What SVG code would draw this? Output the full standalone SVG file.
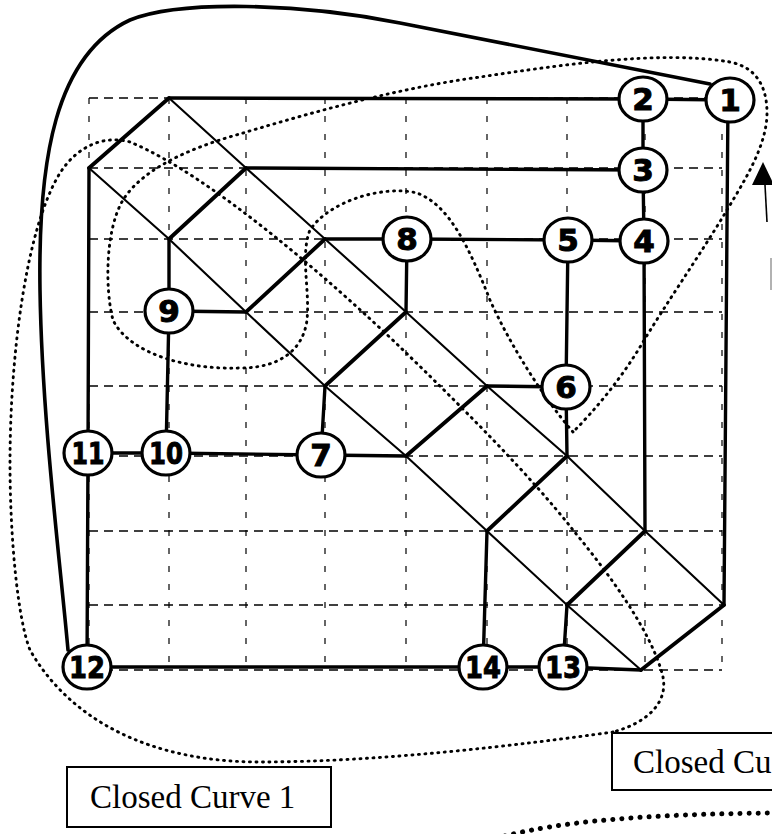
<svg xmlns="http://www.w3.org/2000/svg" width="772" height="834" viewBox="0 0 772 834">
  <style>
    .grid-h { stroke: #000; stroke-width: 1.3; stroke-dasharray: 9 6; fill: none; }
    .grid-v { stroke: #000; stroke-width: 1.2; stroke-dasharray: 6 12; fill: none; }
    .curve { fill: none; stroke: #000; stroke-width: 2.9; stroke-dasharray: 1 5.5; stroke-linecap: round; }
    .curve-big { fill: none; stroke: #000; stroke-width: 5; stroke-dasharray: 0.1 9; stroke-linecap: round; }
    .edge { fill: none; stroke: #000; stroke-width: 3.4; stroke-linecap: round; stroke-linejoin: round; }
    .diag { fill: none; stroke: #000; stroke-width: 2.1; stroke-linecap: round; }
    .rung { fill: none; stroke: #000; stroke-width: 3.8; stroke-linecap: round; }
    .outer { fill: none; stroke: #000; stroke-width: 3.6; stroke-linecap: round; stroke-linejoin: round; }
    .node ellipse { fill: #fff; stroke: #000; stroke-width: 3.2; }
    .node text { font-family: "DejaVu Sans", "Liberation Sans", sans-serif; font-weight: bold; font-size: 31px; text-anchor: middle; fill: #000; stroke: #000; stroke-width: 1; }
    .box rect { fill: #fff; stroke: #000; stroke-width: 2; }
    .box text { font-family: "Liberation Serif", "Times New Roman", serif; font-size: 33px; fill: #000; }
  </style>

  <!-- dashed reference grid, 8 x 8 cells -->
  <g id="grid">
    <path class="grid-h" d="M89,98H722 M89,168H722 M89,239H722 M89,312H722 M89,386H722 M89,456H722 M89,531H722 M89,605H722 M89,670H722"/>
    <path class="grid-v" d="M89,98V670 M169,98V670 M246,98V670 M325,98V670 M406,98V670 M487,98V670 M567,98V670 M645,98V670 M722,98V670"/>
  </g>

  <!-- dotted closed curves -->
  <g id="curves">
    <path id="closed-curve-1" class="curve" d="M613,732 C520,745 380,762 260,762 C150,762 70,720 30,650 C18,620 10,540 10,463 C10,360 25,230 60,173 C78,145 105,135 130,142 C210,175 330,280 400,347 C460,405 530,475 573,530 C610,575 650,630 662,673 C670,700 650,722 613,732 Z"/>
    <path id="closed-curve-2" class="curve" d="M573,432 C545,400 510,345 490,300 C470,250 450,205 417,193 C385,185 330,200 310,230 C300,255 310,290 307,320 C303,350 280,368 240,368 C190,370 130,355 113,320 C105,290 105,230 123,200 C145,165 200,145 243,133 C320,110 400,88 480,77 C560,65 660,50 730,62 C755,67 767,85 767,113 C767,145 745,180 727,210 C700,255 665,305 640,347 C620,380 595,410 573,432 Z"/>
    <path id="closed-curve-3" class="curve-big" d="M505,836 C560,822 640,814 776,813"/>
  </g>

  <!-- connectors -->
  <g id="connectors">
    <!-- outer solid curve from 12 round to 1 -->
    <path class="outer" d="M68,650 C60,560 42,420 40,290 C38,160 55,55 130,20 C180,0 300,3 400,23 L710,84"/>

    <!-- diagonal band -->
    <path class="diag" d="M169,98 L246,168 L325,239 L406,312 L487,386 L567,456 L645,531 L724,605"/>
    <path class="diag" d="M89,168 L169,239 L246,312 L325,386 L406,456 L487,531 L567,605 L641,670"/>
    <path class="rung" d="M89,168 L169,98 M169,239 L246,168 M246,312 L325,239 M325,386 L406,312 M406,456 L487,386 M487,531 L567,456 M567,605 L645,531 M641,670 L724,605"/>

    <!-- edges between nodes and band corners -->
    <path class="edge" d="M169,98 L643,99 L730,100"/>
    <path class="edge" d="M643,99 L643,170 L644,241"/>
    <path class="edge" d="M246,168 L643,170"/>
    <path class="edge" d="M325,239 L407,239 L568,240 L644,241"/>
    <path class="edge" d="M568,240 L566,387"/>
    <path class="edge" d="M644,241 L645,531"/>
    <path class="edge" d="M728,100 L724,605"/>
    <path class="edge" d="M407,239 L406,312"/>
    <path class="edge" d="M169,311 L246,312"/>
    <path class="edge" d="M169,239 L169,311 L166,453"/>
    <path class="edge" d="M88,453 L166,453 L321,455 L406,456"/>
    <path class="edge" d="M321,455 L325,386"/>
    <path class="edge" d="M566,387 L487,386"/>
    <path class="edge" d="M566,387 L567,456"/>
    <path class="edge" d="M89,168 L88,453 L87,667"/>
    <path class="edge" d="M87,667 L483,667 L563,667 L641,670"/>
    <path class="edge" d="M483,667 L487,531"/>
    <path class="edge" d="M563,667 L567,605"/>

    <!-- direction arrow at the right edge -->
    <polygon points="763,162 752,185 774,185" fill="#000"/>
    <path d="M765,185 L767,222" stroke="#000" stroke-width="1.6" fill="none"/>
    <path d="M771,258 L771,290" stroke="#999" stroke-width="1.5" fill="none"/>
  </g>

  <!-- nodes -->
  <g id="node-1" class="node"><ellipse cx="730" cy="100" rx="24" ry="22"/><text x="730" y="111">1</text></g>
  <g id="node-2" class="node"><ellipse cx="643" cy="99" rx="24" ry="22"/><text x="643" y="110">2</text></g>
  <g id="node-3" class="node"><ellipse cx="643" cy="170" rx="24" ry="22"/><text x="643" y="181">3</text></g>
  <g id="node-4" class="node"><ellipse cx="644" cy="241" rx="24" ry="22"/><text x="644" y="252">4</text></g>
  <g id="node-5" class="node"><ellipse cx="568" cy="240" rx="24" ry="22"/><text x="568" y="251">5</text></g>
  <g id="node-6" class="node"><ellipse cx="566" cy="387" rx="24" ry="22"/><text x="566" y="398">6</text></g>
  <g id="node-7" class="node"><ellipse cx="321" cy="455" rx="24" ry="22"/><text x="321" y="466">7</text></g>
  <g id="node-8" class="node"><ellipse cx="407" cy="239" rx="24" ry="22"/><text x="407" y="250">8</text></g>
  <g id="node-9" class="node"><ellipse cx="169" cy="311" rx="24" ry="22"/><text x="169" y="322">9</text></g>
  <g id="node-10" class="node"><ellipse cx="166" cy="453" rx="24" ry="22"/><text x="166" y="464" textLength="34" lengthAdjust="spacingAndGlyphs">10</text></g>
  <g id="node-11" class="node"><ellipse cx="88" cy="453" rx="24" ry="22"/><text x="88" y="464" textLength="33" lengthAdjust="spacingAndGlyphs">11</text></g>
  <g id="node-12" class="node"><ellipse cx="87" cy="667" rx="24" ry="22"/><text x="87" y="678" textLength="36" lengthAdjust="spacingAndGlyphs">12</text></g>
  <g id="node-13" class="node"><ellipse cx="563" cy="667" rx="24" ry="22"/><text x="563" y="678" textLength="36" lengthAdjust="spacingAndGlyphs">13</text></g>
  <g id="node-14" class="node"><ellipse cx="483" cy="667" rx="24" ry="22"/><text x="483" y="678" textLength="36" lengthAdjust="spacingAndGlyphs">14</text></g>

  <!-- curve labels -->
  <g id="label-curve-1" class="box"><rect x="67" y="767" width="264" height="60"/><text x="90" y="808">Closed Curve 1</text></g>
  <g id="label-curve-2" class="box"><rect x="612" y="733" width="200" height="57"/><text x="633" y="773">Closed Cu</text></g>
</svg>
